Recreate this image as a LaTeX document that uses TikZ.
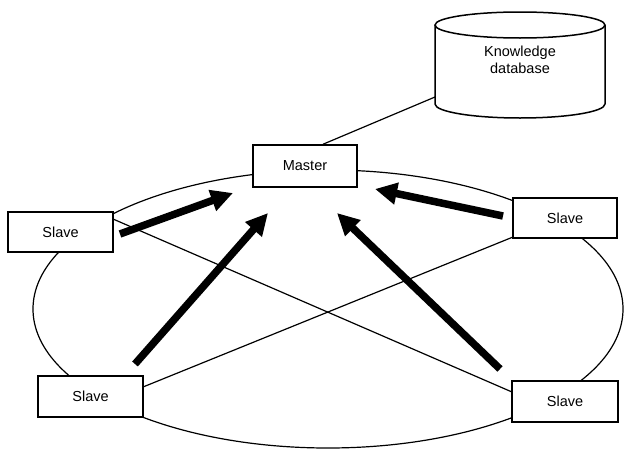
\documentclass[tikz,border=0pt]{standalone}
\usepackage{fontspec}
\setmainfont{Liberation Sans}
\usetikzlibrary{arrows.meta}
\begin{document}
\begin{tikzpicture}[x=1pt,y=-1pt,
  box/.style={draw,line width=1.5pt,fill=white,inner sep=0pt,font=\fontsize{14.5}{17}\selectfont},
  thin/.style={line width=1.2pt},
  bigarrow/.style={line width=7.5pt,-{Triangle[length=22pt,width=21pt]}}]
\useasboundingbox (0,0) rectangle (624,450);
% ring
\draw[thin] (328,309) ellipse [x radius=295, y radius=139];
% cross lines
\coordinate (tlA) at (113,219);
\coordinate (brA) at (512,392);
\coordinate (rA) at (513,237);
\coordinate (blA) at (143,387);
\draw[thin] (tlA) -- (brA);
\draw[thin] (rA) -- (blA);
% database cylinder
\draw[line width=1.5pt,fill=white] (435,25) -- (435,104) arc[start angle=180,end angle=0,x radius=85,y radius=14] -- (605,25);
\draw[line width=1.5pt,fill=white] (520,25) ellipse [x radius=85, y radius=13];
\node[align=center,font=\fontsize{14.5}{17}\selectfont] (db) at (520,60) {Knowledge\\database};
\coordinate (dbL) at (435,97);
% nodes
\node[box,minimum width=104pt,minimum height=42pt] (master) at (305,166) {Master};
\node[box,minimum width=105pt,minimum height=40pt] (stl) at (60.5,232) {Slave};
\node[box,minimum width=104pt,minimum height=40pt] (sr) at (565,218) {Slave};
\node[box,minimum width=105pt,minimum height=41pt] (sbl) at (90.5,396.5) {Slave};
\node[box,minimum width=106pt,minimum height=41pt] (sbr) at (565,401.5) {Slave};
\draw[thin] (dbL) -- ([xshift=18pt]master.north);
% arrows
\coordinate (a1s) at (120,234); \coordinate (a1e) at (233,193);
\coordinate (a2s) at (135,364); \coordinate (a2e) at (268,213);
\coordinate (a3s) at (503,216); \coordinate (a3e) at (375,189);
\coordinate (a4s) at (500,369); \coordinate (a4e) at (337,213);
\draw[bigarrow] (a1s) -- (a1e);
\draw[bigarrow] (a2s) -- (a2e);
\draw[bigarrow] (a3s) -- (a3e);
\draw[bigarrow] (a4s) -- (a4e);
\end{tikzpicture}
\end{document}
